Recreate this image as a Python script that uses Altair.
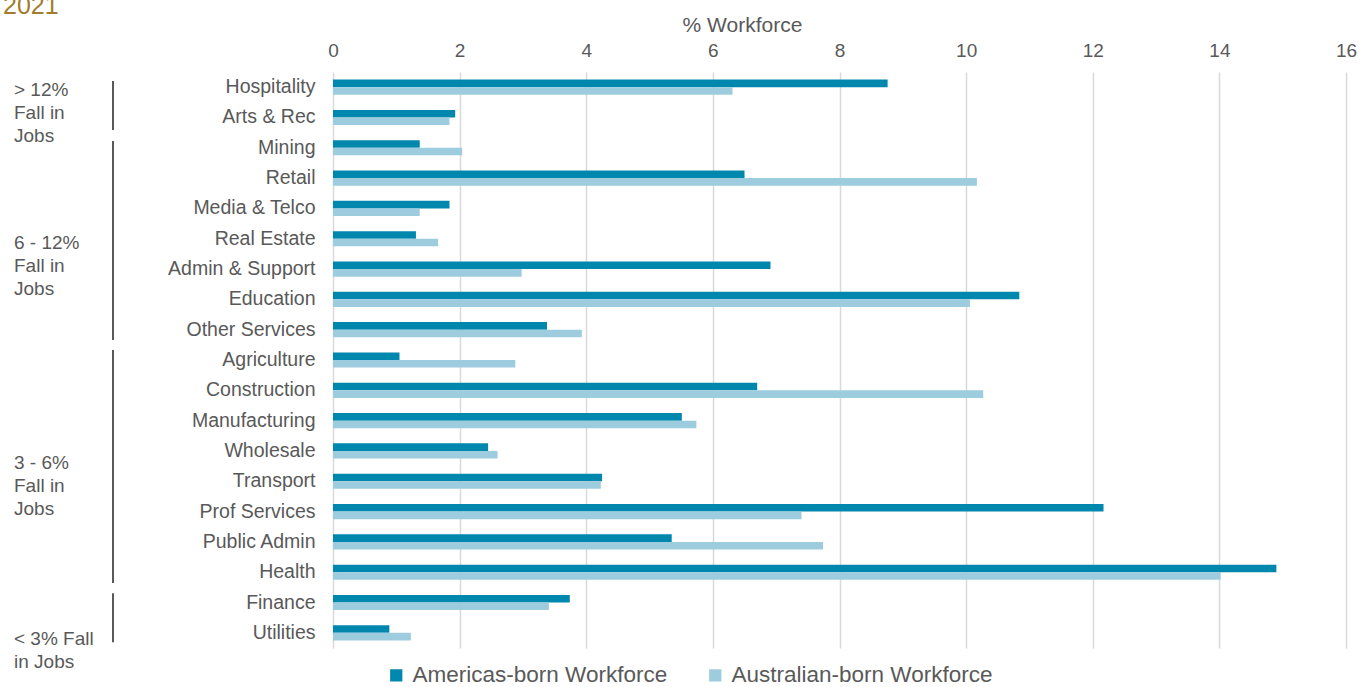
import altair as alt
import pandas as pd

# Industries, top to bottom
industries = [
    "Hospitality", "Arts & Rec", "Mining", "Retail", "Media & Telco",
    "Real Estate", "Admin & Support", "Education", "Other Services",
    "Agriculture", "Construction", "Manufacturing", "Wholesale",
    "Transport", "Prof Services", "Public Admin", "Health", "Finance",
    "Utilities",
]
# Share of each workforce employed in the industry (%)
americas_born = [8.76, 1.93, 1.37, 6.50, 1.84, 1.31, 6.91, 10.84, 3.38,
                 1.05, 6.70, 5.51, 2.45, 4.25, 12.17, 5.35, 14.90, 3.74, 0.89]
australian_born = [6.31, 1.84, 2.04, 10.17, 1.37, 1.66, 2.98, 10.06, 3.93,
                   2.88, 10.27, 5.74, 2.60, 4.23, 7.40, 7.74, 14.02, 3.41, 1.23]
series_names = ["Americas-born Workforce", "Australian-born Workforce"]
series_colors = ["#0087AD", "#9ECCDF"]
x_ticks = [0, 2, 4, 6, 8, 10, 12, 14, 16]

# Job-loss bands, measured in rows from the top of the chart
group_labels = ["> 12%\nFall in\nJobs", "6 - 12%\nFall in\nJobs",
                "3 - 6%\nFall in\nJobs", "< 3% Fall\nin Jobs"]
group_label_pos = [0.59, 5.64, 12.90, 18.71]   # first line of each label
bracket_start = [0.30, 2.28, 9.17, 17.19]
bracket_end = [1.91, 8.84, 16.86, 18.81]

year_label = ["2021"]

FONT = "Liberation Sans"
GREY = "#595959"
W, H = 1013, 576

bars_df = pd.DataFrame({
    "industry": industries * 2,
    "series": [series_names[0]] * len(industries) + [series_names[1]] * len(industries),
    "value": americas_born + australian_born,
})
groups_df = pd.DataFrame({
    "label": group_labels,
    "pos": group_label_pos,
    "start": bracket_start,
    "end": bracket_end,
})
year_df = pd.DataFrame({"label": year_label})

bars = alt.Chart(bars_df).mark_bar().encode(
    x=alt.X("value:Q",
            scale=alt.Scale(domain=[0, 16], nice=False),
            axis=alt.Axis(orient="top", values=x_ticks, title="% Workforce",
                          grid=True, gridColor="#D9D9D9", gridWidth=1.5,
                          domain=False, ticks=False, labelFontSize=19,
                          labelColor=GREY, labelFont=FONT, labelPadding=12,
                          labelFlush=False,
                          titleFontSize=21, titleColor=GREY, titleFont=FONT,
                          titleFontWeight="normal", titlePadding=6,
                          titleX=409, titleAnchor="start", titleAlign="center")),
    y=alt.Y("industry:N", sort=industries,
            scale=alt.Scale(domain=industries, paddingInner=0.5, paddingOuter=0.25),
            axis=alt.Axis(title=None, domain=False, ticks=False, grid=False,
                          labelFontSize=19.5, labelColor=GREY, labelFont=FONT,
                          labelPadding=18)),
    yOffset=alt.YOffset("series:N", sort=series_names),
    color=alt.Color("series:N", sort=series_names,
                    scale=alt.Scale(domain=series_names, range=series_colors),
                    legend=alt.Legend(title=None, orient="none", legendX=52,
                                      legendY=592, direction="horizontal",
                                      symbolType="square", symbolSize=150,
                                      symbolStrokeWidth=0, labelFontSize=22.5,
                                      labelColor=GREY, labelFont=FONT,
                                      labelLimit=0, labelOffset=5,
                                      columnPadding=36)),
)

row_scale = alt.Scale(domain=[0, 19], reverse=True, nice=False, zero=False)

brackets = alt.Chart(groups_df).mark_rule(color="#595959", strokeWidth=2).encode(
    x=alt.value(-220),
    y=alt.Y("start:Q", scale=row_scale, axis=None),
    y2="end:Q",
)

group_text = alt.Chart(groups_df).mark_text(
    align="left", baseline="middle", lineBreak="\n", lineHeight=23,
    fontSize=19, font=FONT, color=GREY,
).encode(
    x=alt.value(-319),
    y=alt.Y("pos:Q", scale=row_scale, axis=None),
    text="label:N",
)

year = alt.Chart(year_df).mark_text(
    align="left", baseline="alphabetic", fontSize=25, font=FONT, color="#A07C2C",
).encode(
    x=alt.value(-330),
    y=alt.value(-58),
    text="label:N",
)

annotations = alt.layer(brackets, group_text, year)

chart = alt.layer(bars, annotations).resolve_scale(y="independent").properties(
    width=W,
    height=H,
    background="white",
    autosize=alt.AutoSizeParams(type="none"),
    padding={"left": 333, "top": 72, "right": 14, "bottom": 39},
).configure_view(stroke="transparent")

chart.save("out.html", embed_options={"renderer": "svg", "actions": False})
